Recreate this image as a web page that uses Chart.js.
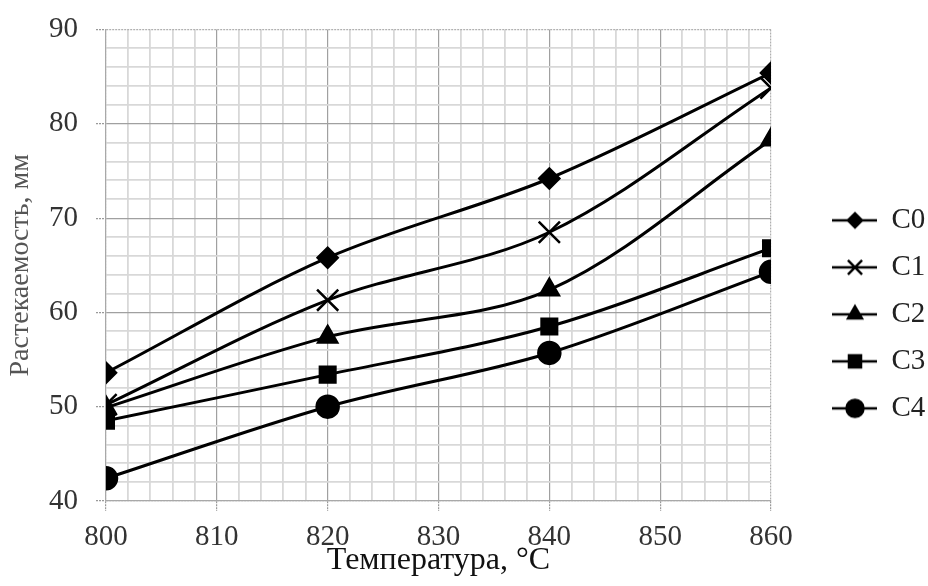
<!DOCTYPE html>
<html>
<head>
<meta charset="utf-8">
<script src="https://cdn.jsdelivr.net/npm/chart.js@4/dist/chart.umd.min.js"></script>
<style>
  html, body { margin: 0; padding: 0; background: #fff; }
  #wrap { width: 928px; height: 586px; }
</style>
</head>
<body>
<div id="wrap"><canvas id="c" width="928" height="586"></canvas></div>
<script>
// ---- data ----
const temperatures = [800, 820, 840, 860];
const seriesNames = ['C0', 'C1', 'C2', 'C3', 'C4'];
const c0 = [53.6, 65.8, 74.2, 85.4];
const c1 = [50.2, 61.3, 68.5, 83.8];
const c2 = [49.9, 57.4, 62.4, 78.3];
const c3 = [48.5, 53.4, 58.5, 66.8];
const c4 = [42.4, 50.0, 55.7, 64.3];
const xTickLabels = [800, 810, 820, 830, 840, 850, 860];
const yTickLabels = [40, 50, 60, 70, 80, 90];
const xTitle = 'Температура, °C';
const yTitle = 'Растекаемость, мм';

// ---- styles ----
const FONT = '"Liberation Serif", "Times New Roman", serif';
const styles = [
  { pointStyle: 'rectRot', radius: 10, legendRadius: 7 },
  { pointStyle: 'crossRot', radius: 15, legendRadius: 10 },
  { pointStyle: 'triangle', radius: 11, legendRadius: 8 },
  { pointStyle: 'rect', radius: 11, legendRadius: 8.5 },
  { pointStyle: 'circle', radius: 11, legendRadius: 8.5 }
];
const allValues = [c0, c1, c2, c3, c4];

function legendImage(st) {
  const W = 88, H = 30;
  const cv = document.createElement('canvas');
  cv.width = W; cv.height = H;
  const g = cv.getContext('2d');
  g.strokeStyle = '#000';
  g.fillStyle = '#000';
  g.lineWidth = 2.5;
  g.beginPath();
  g.moveTo(43, H / 2);
  g.lineTo(W, H / 2);
  g.stroke();
  g.lineWidth = 2.5;
  Chart.helpers.drawPoint(g, { pointStyle: st.pointStyle, radius: st.legendRadius, borderWidth: 2.5, rotation: 0 }, 66, H / 2);
  return cv;
}

const datasets = seriesNames.map((name, i) => ({
  label: name,
  data: temperatures.map((t, k) => ({ x: t, y: allValues[i][k] })),
  borderColor: '#000',
  backgroundColor: '#000',
  borderWidth: 3,
  tension: 0.33,
  pointStyle: styles[i].pointStyle,
  pointRadius: styles[i].radius,
  pointBorderWidth: 2.5,
  pointBackgroundColor: '#000',
  pointBorderColor: '#000',
  fill: false
}));

const legendImgs = styles.map(legendImage);

function isMajorX(v) { return xTickLabels.includes(v); }
function isMajorY(v) { return yTickLabels.includes(v); }

new Chart(document.getElementById('c'), {
  type: 'line',
  data: { datasets },
  options: {
    responsive: false,
    animation: false,
    devicePixelRatio: 1,
    layout: { padding: { top: 29.5, left: 0, right: 0, bottom: 0 } },
    plugins: {
      legend: {
        position: 'right',
        align: 'center',
        maxWidth: 157,
        title: { display: true, text: ' ', font: { size: 1 }, padding: { top: 6, bottom: 6 } },
        labels: {
          usePointStyle: true,
          pointStyleWidth: 88,
          padding: 18,
          color: '#222',
          font: { family: FONT, size: 29 },
          generateLabels: (chart) => chart.data.datasets.map((ds, i) => ({
            text: ds.label,
            pointStyle: legendImgs[i],
            datasetIndex: i,
            hidden: false,
            fontColor: '#222',
            lineWidth: 0,
            strokeStyle: 'transparent',
            fillStyle: 'transparent'
          }))
        }
      },
      tooltip: { enabled: false }
    },
    scales: {
      x: {
        type: 'linear',
        min: 800, max: 860,
        afterFit: (s) => { s.height = 85; },
        afterBuildTicks: (s) => {
          const t = [];
          for (let v = 800; v <= 860; v += 2) t.push({ value: v });
          s.ticks = t;
        },
        ticks: {
          autoSkip: false, maxRotation: 0, padding: 9,
          color: '#333',
          font: { family: FONT, size: 29 },
          callback: (v) => isMajorX(v) ? String(v) : ''
        },
        grid: {
          color: (ctx) => {
            const v = ctx.tick && ctx.tick.value;
            if (v === 800 || v === 860) return '#b0b0b0';
            return isMajorX(v) ? '#a0a0a0' : '#d8d8d8';
          },
          lineWidth: (ctx) => {
            const v = ctx.tick && ctx.tick.value;
            return isMajorX(v) ? 1.2 : 1.8;
          },
          tickLength: 10,
          tickColor: (ctx) => isMajorX(ctx.tick && ctx.tick.value) ? '#999' : 'rgba(0,0,0,0)',
          tickBorderDash: [2, 1]
        },
        border: {
          color: '#a8a8a8', width: 1.2,
          dash: (ctx) => {
            if (ctx.type !== 'tick') return [2, 1];
            const v = ctx.tick.value;
            return (v === 800 || v === 860) ? [2, 1] : [];
          }
        },
        title: {
          display: true, text: xTitle, color: '#111',
          font: { family: FONT, size: 32 },
          padding: { top: 0, bottom: 6 }
        }
      },
      y: {
        type: 'linear',
        min: 40, max: 90,
        afterFit: (s) => { s.width = 106; s.paddingTop = 0; s.paddingBottom = 0; },
        afterBuildTicks: (s) => {
          const t = [];
          for (let v = 40; v <= 90; v += 2) t.push({ value: v });
          s.ticks = t;
        },
        ticks: {
          autoSkip: false, padding: 18,
          color: '#333',
          font: { family: FONT, size: 29 },
          callback: (v) => isMajorY(v) ? String(v) : ''
        },
        grid: {
          color: (ctx) => {
            const v = ctx.tick && ctx.tick.value;
            if (v === 40 || v === 90) return '#b0b0b0';
            return isMajorY(v) ? '#a0a0a0' : '#d8d8d8';
          },
          lineWidth: (ctx) => {
            const v = ctx.tick && ctx.tick.value;
            return isMajorY(v) ? 1.2 : 1.8;
          },
          tickLength: 10,
          tickColor: (ctx) => isMajorY(ctx.tick && ctx.tick.value) ? '#999' : 'rgba(0,0,0,0)',
          tickBorderDash: [2, 1]
        },
        border: {
          color: '#a8a8a8', width: 1.2,
          dash: (ctx) => {
            if (ctx.type !== 'tick') return [2, 1];
            const v = ctx.tick.value;
            return (v === 40 || v === 90) ? [2, 1] : [];
          }
        },
        title: {
          display: true, text: yTitle, color: '#555',
          font: { family: FONT, size: 28 },
          padding: { top: 4, bottom: 0 }
        }
      }
    }
  }
});
</script>
</body>
</html>
